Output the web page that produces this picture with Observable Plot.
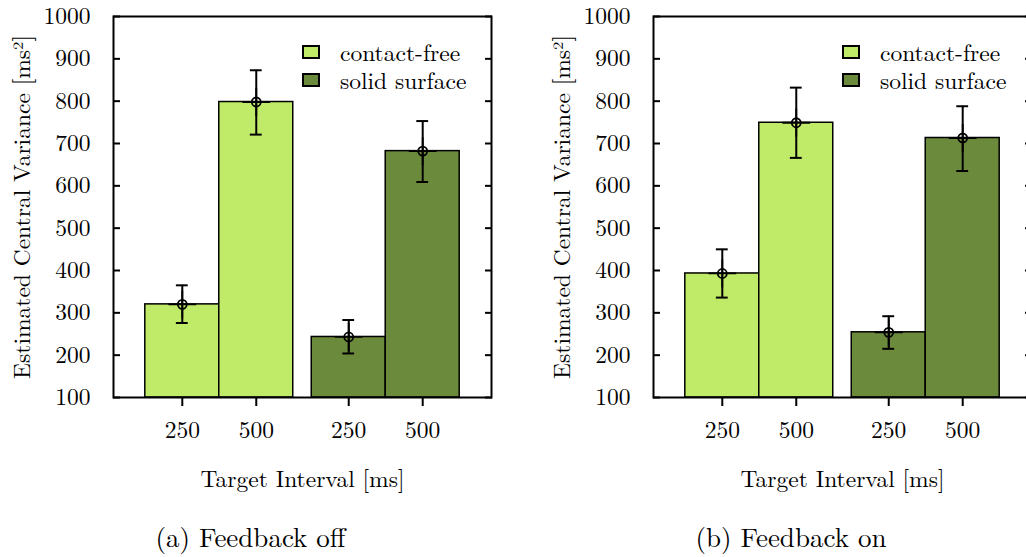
<!DOCTYPE html>
<html><head><meta charset="utf-8">
<script src="https://cdn.jsdelivr.net/npm/d3@7"></script>
<script src="https://cdn.jsdelivr.net/npm/@observablehq/plot@0.6"></script>
<style>
body{margin:0;background:#fff;width:1026px;height:557px;overflow:hidden;position:relative;}
.panel{position:absolute;top:0;width:540px;height:557px;}
.panel svg{position:absolute;left:0;top:0;overflow:visible}
.legend{position:absolute;color:#000;line-height:1}
.item{position:absolute;left:0;height:22px;line-height:22px;display:flex;align-items:center;white-space:nowrap}
.item span{line-height:22px}
.sw{width:14px;height:10px;border:2px solid #000;margin-right:20px;flex:none}
</style></head><body>
<script>
// ---- data ----
const conditions = ["contact-free", "solid surface"];
const intervals = ["250", "500"];
const colors = ["#bfeb69", "#6c8a3b"];
const yTicks = [100, 200, 300, 400, 500, 600, 700, 800, 900, 1000];
const yDomain = [100, 1000];
const yLabel = "Estimated Central Variance [ms²]";
const xLabel = "Target Interval [ms]";
const captions = ["(a) Feedback off", "(b) Feedback on"];
// order: contact-free 250, contact-free 500, solid surface 250, solid surface 500
const offMean = [320, 798, 243, 682];
const offLow  = [276, 721, 204, 609];
const offHigh = [365, 873, 283, 753];
const onMean  = [393, 749, 254, 713];
const onLow   = [336, 666, 215, 635];
const onHigh  = [450, 832, 292, 788];

// ---- layout ----
const gap = 0.25, pad = 0.43, cap = 0.08, circleR = 4.5;
const font = "'Latin Modern Roman', 'Liberation Serif', serif";
const fs = 23.5, captionFs = 27;

function buildRows(mean, low, high) {
  const rows = [];
  conditions.forEach((c, g) => intervals.forEach((iv, i) => {
    const k = g * intervals.length + i;
    const x1 = g * (intervals.length + gap) + i;
    rows.push({condition: c, interval: iv, x1, x2: x1 + 1, xc: x1 + 0.5, mean: mean[k], low: low[k], high: high[k]});
  }));
  return rows;
}

const panelsData = [
  {caption: captions[0], rows: buildRows(offMean, offLow, offHigh)},
  {caption: captions[1], rows: buildRows(onMean, onLow, onHigh)}
];

panelsData.forEach((p, pi) => {
  const rows = p.rows;
  const centers = rows.map(d => d.xc);
  const labelOf = new Map(rows.map(d => [d.xc, d.interval]));
  const xMax = conditions.length * intervals.length + (conditions.length - 1) * gap + pad;
  const chart = Plot.plot({
    width: 540, height: 557,
    marginLeft: 113, marginRight: 49, marginTop: 16, marginBottom: 160,
    style: `font-family: ${font}; font-size: ${fs}px; color: black; background: transparent; overflow: visible;`,
    x: {type: "linear", domain: [-pad, xMax]},
    y: {domain: yDomain},
    color: {domain: conditions, range: colors},
    marks: [
      Plot.rectY(rows, {x1: "x1", x2: "x2", y1: yDomain[0], y2: "mean", fill: "condition", stroke: "black", strokeWidth: 1.5}),
      Plot.ruleX(rows, {x: "xc", y1: "low", y2: "high", stroke: "black", strokeWidth: 2}),
      Plot.ruleY(rows, {y: "low", x1: d => d.xc - cap, x2: d => d.xc + cap, stroke: "black", strokeWidth: 2}),
      Plot.ruleY(rows, {y: "high", x1: d => d.xc - cap, x2: d => d.xc + cap, stroke: "black", strokeWidth: 2}),
      Plot.dot(rows, {x: "xc", y: "mean", r: circleR, stroke: "black", strokeWidth: 1.8, fill: "none"}),
      Plot.dot(rows, {x: "xc", y: "mean", r: 9, symbol: "plus", stroke: "black", strokeWidth: 1.8}),
      Plot.axisY({ticks: yTicks, tickSize: -7, tickPadding: 30, tickFormat: d => String(d), strokeWidth: 2, label: null, fontSize: fs, fontFamily: font}),
      Plot.axisY({anchor: "right", ticks: yTicks, tickSize: -7, tickFormat: () => "", strokeWidth: 2, label: null}),
      Plot.axisX({ticks: centers, tickFormat: d => labelOf.get(d), tickSize: 9, tickPadding: 15, strokeWidth: 2, label: null, fontSize: fs, fontFamily: font}),
      Plot.frame({stroke: "black", strokeWidth: 2}),
      Plot.text([yLabel], {frameAnchor: "left", rotate: -90, dx: -91, lineAnchor: "middle", textAnchor: "middle", fontSize: fs, fontFamily: font}),
      Plot.text([xLabel], {frameAnchor: "bottom", dy: 82, lineAnchor: "middle", fontSize: fs, fontFamily: font}),
      Plot.text([p.caption], {frameAnchor: "bottom-left", dx: 42, dy: 141, lineAnchor: "middle", textAnchor: "start", fontSize: captionFs, fontFamily: font})
    ]
  });
  const div = document.createElement("div");
  div.className = "panel";
  div.style.left = (pi * 540) + "px";
  div.appendChild(chart);
  const legend = document.createElement("div");
  legend.className = "legend";
  legend.style.left = "302px";
  legend.style.top = "41px";
  legend.style.fontFamily = font;
  legend.style.fontSize = fs + "px";
  conditions.forEach((c, ci) => {
    const item = document.createElement("div");
    item.className = "item";
    item.style.top = (ci * 28) + "px";
    const sw = document.createElement("span");
    sw.className = "sw";
    sw.style.background = colors[ci];
    const t = document.createElement("span");
    t.textContent = c;
    item.appendChild(sw); item.appendChild(t);
    legend.appendChild(item);
  });
  div.appendChild(legend);
  document.body.appendChild(div);
});
</script>
</body></html>
